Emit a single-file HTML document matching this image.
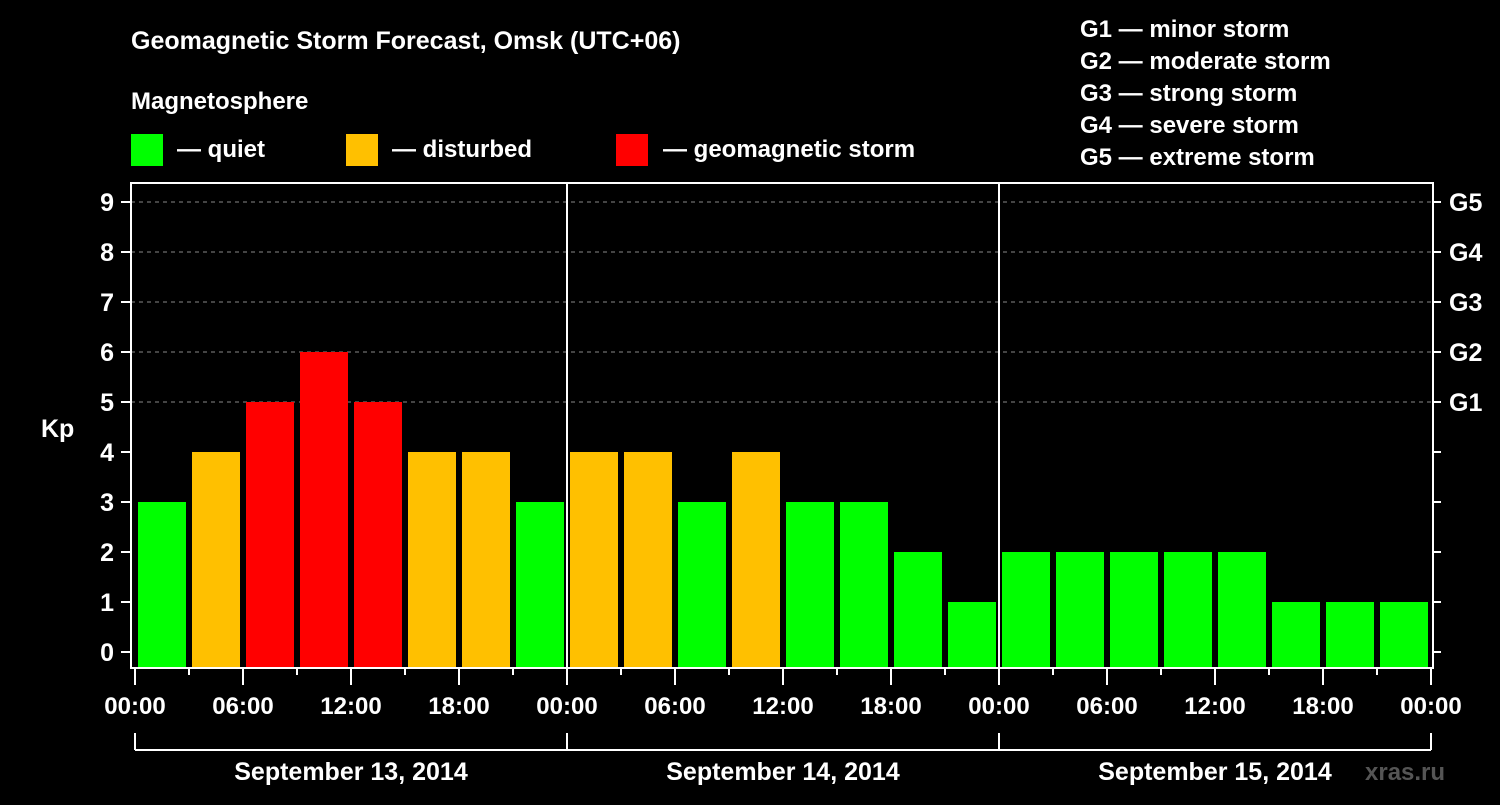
<!DOCTYPE html>
<html><head><meta charset="utf-8"><style>
body{margin:0;background:#000;width:1500px;height:800px;overflow:hidden}
svg text{font-family:"Liberation Sans",sans-serif;font-weight:bold;fill:#fff}
</style></head><body>
<svg id="c" width="1500" height="800">
<text x="131" y="49" font-size="25">Geomagnetic Storm Forecast, Omsk (UTC+06)</text>
<text x="131" y="109" font-size="24">Magnetosphere</text>
<rect x="131" y="134" width="32" height="32" fill="#00ff00"/>
<text x="177" y="157" font-size="24">— quiet</text>
<rect x="346" y="134" width="32" height="32" fill="#ffc000"/>
<text x="392" y="157" font-size="24">— disturbed</text>
<rect x="616" y="134" width="32" height="32" fill="#ff0000"/>
<text x="663" y="157" font-size="24">— geomagnetic storm</text>
<g font-size="24">
<text x="1080" y="37">G1 — minor storm</text>
<text x="1080" y="69">G2 — moderate storm</text>
<text x="1080" y="101">G3 — strong storm</text>
<text x="1080" y="133">G4 — severe storm</text>
<text x="1080" y="165">G5 — extreme storm</text>
</g>
<text x="41" y="437" font-size="25">Kp</text>
<text x="1365" y="780" font-size="24" fill="#555" style="fill:#555">xras.ru</text>
<g id="grid"></g><g id="bars"></g><g id="axes"></g>
</svg>
<script>
const kpValues=[3,4,5,6,5,4,4,3,4,4,3,4,3,3,2,1,2,2,2,2,2,1,1,1];
const dayLabels=["September 13, 2014","September 14, 2014","September 15, 2014"];
const hourLabels=["00:00","06:00","12:00","18:00"];
const yTicks=[0,1,2,3,4,5,6,7,8,9];
const gLabels=["G1","G2","G3","G4","G5"];
const NS="http://www.w3.org/2000/svg";
const X0=135,DAYW=432,SLOT=54,L=131,R=1433,T=183,B=668;
const y=v=>652-v*50;
const x=i=>X0+i*SLOT;
function mk(p,tag,a){const e=document.createElementNS(NS,tag);for(const k in a)e.setAttribute(k,a[k]);p.appendChild(e);return e;}
const grid=document.getElementById('grid'),bars=document.getElementById('bars'),axes=document.getElementById('axes');
for(let k=5;k<=9;k++){const l=mk(grid,'line',{x1:L,x2:R,y1:y(k),y2:y(k),stroke:'#888','stroke-dasharray':'4,4'});

}
kpValues.forEach((v,i)=>{const c=v>=5?'#ff0000':v>=4?'#ffc000':'#00ff00';
const r=mk(bars,'rect',{x:x(i)+3,y:y(v),width:48,height:B-y(v),fill:c});

});
const fr=mk(axes,'rect',{x:L,y:T,width:R-L,height:B-T,fill:'none',stroke:'#fff','stroke-width':2});


for(let d=1;d<dayLabels.length;d++){const l=mk(axes,'line',{x1:X0+d*DAYW,x2:X0+d*DAYW,y1:T,y2:B,stroke:'#fff','stroke-width':2});

}
yTicks.forEach(v=>{mk(axes,'line',{x1:121,x2:L,y1:y(v),y2:y(v),stroke:'#fff','stroke-width':2});
mk(axes,'line',{x1:R,x2:1441,y1:y(v),y2:y(v),stroke:'#fff','stroke-width':2});
const t=mk(axes,'text',{x:114,y:y(v)+9,'font-size':25,'text-anchor':'end'});t.textContent=v;

});
gLabels.forEach((g,i)=>{const t=mk(axes,'text',{x:1449,y:y(5+i)+9,'font-size':25});t.textContent=g;

});
for(let i=0;i<=kpValues.length;i++){const long=i%2==0;
mk(axes,'line',{x1:x(i),x2:x(i),y1:B,y2:long?685:675,stroke:'#fff','stroke-width':2});
if(long){const t=mk(axes,'text',{x:x(i),y:714,'font-size':24,'text-anchor':'middle'});t.textContent=hourLabels[(i/2)%4];

}}
const br=mk(axes,'line',{x1:X0,x2:X0+3*DAYW,y1:750,y2:750,stroke:'#fff','stroke-width':2});


for(let d=0;d<=dayLabels.length;d++)mk(axes,'line',{x1:X0+d*DAYW,x2:X0+d*DAYW,y1:733,y2:750,stroke:'#fff','stroke-width':2});
dayLabels.forEach((s,d)=>{const t=mk(axes,'text',{x:X0+d*DAYW+DAYW/2,y:780,'font-size':25,'text-anchor':'middle'});t.textContent=s;

});
</script>
</body></html>
